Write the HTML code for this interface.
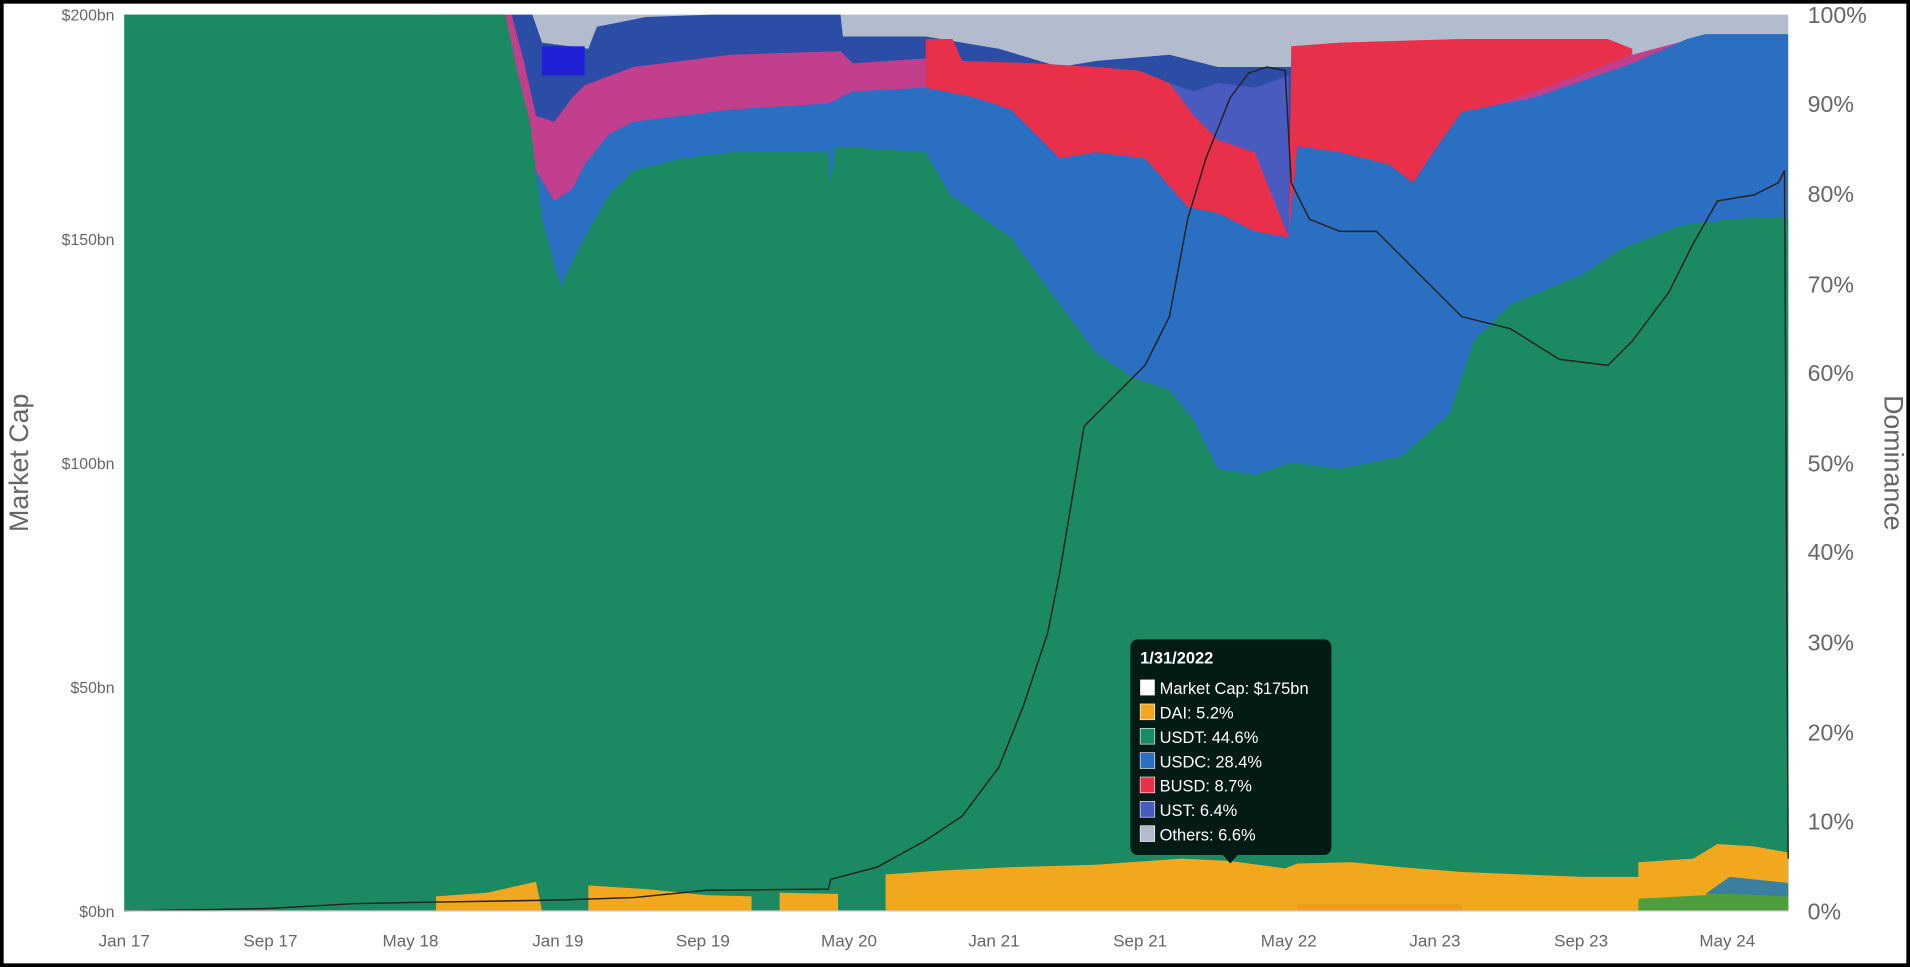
<!DOCTYPE html>
<html><head><meta charset="utf-8"><style>
html,body{margin:0;padding:0;background:#000;}
svg{display:block;}
text{font-family:"Liberation Sans",sans-serif;}
</style></head><body>
<svg width="1910" height="967" viewBox="0 0 1568 794" preserveAspectRatio="none" xmlns="http://www.w3.org/2000/svg">
<rect x="3" y="3" width="1562" height="788" fill="#fff"/>
<!-- Others -->
<rect x="102" y="12" width="1366" height="736" fill="#b3bccd"/>
<!-- indigo -->
<polygon fill="#2b4da6" points="420,12 437,12 445,35 483,40 490,22 530,14 585,12 690,12 692,30 760,30 820,40 870,55 900,50 960,45 1000,55 1060,55 1062,748 420,748"/>
<polygon fill="#2020d8" points="445,38 480,38 480,62 445,62"/>
<!-- UST -->
<polygon fill="#4a5bbf" points="950,748 950,65 980,75 1000,68 1030,72 1058,62 1060,748"/>
<!-- pink left -->
<polygon fill="#c13f8d" points="358,12 420,12 430,50 440,95 455,100 470,80 480,70 520,55 600,45 690,42 700,52 760,48 775,70 780,748 358,748"/>
<!-- red -->
<polygon fill="#e8304a" points="760,32 782,32 790,50 850,52 900,55 935,58 960,68 980,95 1000,115 1030,125 1058,195 1060,38 1100,35 1200,32 1320,32 1340,40 1345,748 760,748"/>
<!-- pink right -->
<polygon fill="#c13f8d" points="1200,95 1260,75 1300,60 1340,45 1385,33 1390,748 1200,748"/>
<!-- USDC -->
<polygon fill="#2a6fc2" points="425,100 440,140 455,165 470,155 480,135 500,110 520,100 600,90 680,85 700,75 760,72 800,80 830,90 870,130 900,125 940,130 975,170 1000,175 1030,190 1058,195 1065,120 1100,125 1140,135 1160,150 1180,120 1200,92 1260,80 1340,52 1385,32 1400,28 1468,28 1468,748 425,748"/>
<!-- USDT -->
<polygon fill="#1b8a63" points="102,12 415,12 425,60 435,100 445,180 460,235 470,215 480,195 500,160 520,140 560,130 600,125 680,125 682,150 686,120 760,125 780,160 830,195 870,250 900,290 930,310 960,320 980,345 1000,385 1030,390 1060,380 1100,385 1150,375 1190,340 1210,280 1240,250 1300,225 1330,205 1380,185 1420,180 1460,178 1468,180 1468,748 102,748"/>
<!-- DAI -->
<polygon fill="#f2a81e" points="358,748 358,736 400,733 440,724 445,748"/>
<polygon fill="#f2a81e" points="483,748 483,727 530,730 580,735 617,736 617,748"/>
<polygon fill="#f2a81e" points="640,748 640,733 688,734 688,748"/>
<polygon fill="#f2a81e" points="727,748 727,718 770,715 830,712 900,710 970,705 1010,707 1055,713 1065,709 1110,708 1150,712 1200,716 1250,718 1300,720 1345,720 1345,708 1390,705 1410,693 1440,695 1468,700 1468,748"/>
<rect x="1065" y="742" width="135" height="6" fill="#ee9a20"/>
<polygon fill="#4f9e3e" points="1345,748 1345,738 1400,735 1420,728 1468,730 1468,748"/>
<polygon fill="#3a7fa0" points="1400,734 1420,720 1468,725 1468,736 1420,734"/>
<!-- market cap line -->
<polyline fill="none" stroke="#222" stroke-width="1.2" points="102,748 220,746 290,742 340,741 400,740 460,739 520,737 580,731 680,730 682,722 720,712 760,690 790,670 820,630 840,580 860,520 870,470 880,410 890,350 900,340 920,320 940,300 950,280 960,260 975,180 990,130 1010,80 1025,60 1040,55 1055,58 1060,150 1075,180 1100,190 1130,190 1160,220 1200,260 1240,270 1280,295 1320,300 1340,280 1370,240 1390,200 1410,165 1440,160 1460,150 1465,140 1468,705"/>
<!-- axes -->
<line x1="102" y1="748" x2="1468" y2="748" stroke="#ccc"/>
<g font-size="13" fill="#666" text-anchor="end">
<text x="94" y="17">$200bn</text><text x="94" y="201">$150bn</text><text x="94" y="385">$100bn</text><text x="94" y="569">$50bn</text><text x="94" y="753">$0bn</text>
</g>
<g font-size="19" fill="#666">
<text x="1484" y="19">100%</text><text x="1484" y="92">90%</text><text x="1484" y="166">80%</text><text x="1484" y="240">70%</text><text x="1484" y="313">60%</text><text x="1484" y="387">50%</text><text x="1484" y="460">40%</text><text x="1484" y="534">30%</text><text x="1484" y="608">20%</text><text x="1484" y="681">10%</text><text x="1484" y="755">0%</text>
</g>
<g font-size="14" fill="#666" text-anchor="middle">
<text x="102" y="777">Jan 17</text><text x="222" y="777">Sep 17</text><text x="337" y="777">May 18</text><text x="458" y="777">Jan 19</text><text x="577" y="777">Sep 19</text><text x="697" y="777">May 20</text><text x="816" y="777">Jan 21</text><text x="936" y="777">Sep 21</text><text x="1058" y="777">May 22</text><text x="1178" y="777">Jan 23</text><text x="1298" y="777">Sep 23</text><text x="1418" y="777">May 24</text>
</g>
<text transform="translate(23,380) rotate(-90)" font-size="22" fill="#666" text-anchor="middle">Market Cap</text>
<text transform="translate(1547,380) rotate(90)" font-size="22" fill="#666" text-anchor="middle">Dominance</text>
<!-- tooltip -->
<rect x="928" y="525" width="165" height="177" rx="6" fill="#041a14"/>
<polygon points="1003,701 1017,701 1010,709" fill="#041a14"/>
<g font-size="13.5" fill="#fff">
<text x="936" y="545" font-weight="bold">1/31/2022</text>
<rect x="936" y="558" width="12" height="13" fill="#fff"/><text x="952" y="570">Market Cap: $175bn</text>
<rect x="936" y="578" width="12" height="13" fill="#f2a81e" stroke="#fff" stroke-width=".5"/><text x="952" y="590">DAI: 5.2%</text>
<rect x="936" y="598" width="12" height="13" fill="#1b8a63" stroke="#fff" stroke-width=".5"/><text x="952" y="610">USDT: 44.6%</text>
<rect x="936" y="618" width="12" height="13" fill="#2a6fc2" stroke="#fff" stroke-width=".5"/><text x="952" y="630">USDC: 28.4%</text>
<rect x="936" y="638" width="12" height="13" fill="#e8304a" stroke="#fff" stroke-width=".5"/><text x="952" y="650">BUSD: 8.7%</text>
<rect x="936" y="658" width="12" height="13" fill="#4a5bbf" stroke="#fff" stroke-width=".5"/><text x="952" y="670">UST: 6.4%</text>
<rect x="936" y="678" width="12" height="13" fill="#b3bccd" stroke="#fff" stroke-width=".5"/><text x="952" y="690">Others: 6.6%</text>
</g>
</svg>
</body></html>
